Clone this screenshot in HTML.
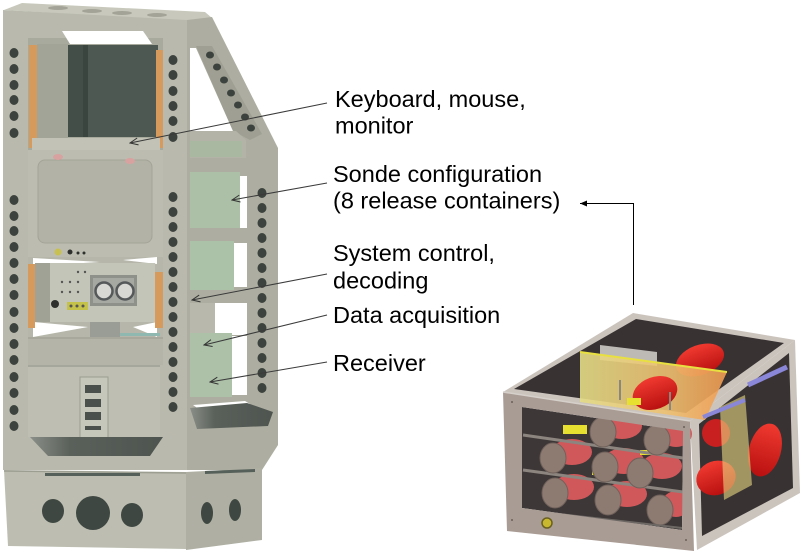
<!DOCTYPE html>
<html><head><meta charset="utf-8"><style>html,body{margin:0;padding:0;background:#fff}svg{display:block}</style></head>
<body>
<svg width="812" height="560" viewBox="0 0 812 560" xmlns="http://www.w3.org/2000/svg">
<defs>
<marker id="oa" markerWidth="10" markerHeight="10" refX="9" refY="5" orient="auto" markerUnits="userSpaceOnUse"><path d="M1,1.5 L9,5 L1,8.5" fill="none" stroke="#333" stroke-width="1"/></marker>
<marker id="fa" markerWidth="8" markerHeight="8" refX="7" refY="4" orient="auto" markerUnits="userSpaceOnUse"><path d="M0,1 L7,4 L0,7 Z" fill="#000"/></marker>
<linearGradient id="yel" x1="0" y1="0" x2="1" y2="0"><stop offset="0" stop-color="#e4dc86"/><stop offset="0.6" stop-color="#eec070"/><stop offset="1" stop-color="#f09a50"/></linearGradient>
<linearGradient id="bev" x1="0" y1="0" x2="1" y2="0"><stop offset="0" stop-color="#8a8f88"/><stop offset="0.3" stop-color="#5a605a"/><stop offset="1" stop-color="#4e544f"/></linearGradient>
<linearGradient id="red" x1="0" y1="0" x2="0" y2="1"><stop offset="0" stop-color="#f03a30"/><stop offset="1" stop-color="#b81010"/></linearGradient>
</defs>

<!-- ===== RACK ===== -->
<!-- top surface -->
<polygon points="22,3 205,12 212,18 187,21 4,10" fill="#c8c9bc"/>
<g fill="#a3a497"><ellipse cx="58" cy="8" rx="10" ry="2"/><ellipse cx="92" cy="11" rx="10" ry="2"/><ellipse cx="122" cy="13" rx="10" ry="2"/><ellipse cx="157" cy="15" rx="10" ry="2"/></g>
<!-- side face -->
<polygon points="187,20 212,17 278,148 278,445 262,470 187,470" fill="#adaea1"/>
<!-- front face -->
<polygon points="3,10 187,20 187,470 3,470" fill="#b9baad"/>

<!-- side upper opening -->
<polygon points="190,48 196,48 233,131 190,131" fill="#fff"/>
<polygon points="196,46 212,46 262,134 250,140 233,131" fill="#9fa093"/>
<g fill="#3c423d">
<ellipse cx="210" cy="55" rx="4" ry="3.5"/><ellipse cx="217" cy="67" rx="4" ry="3.5"/><ellipse cx="224" cy="80" rx="4" ry="3.5"/><ellipse cx="231" cy="93" rx="4" ry="3.5"/><ellipse cx="238" cy="105" rx="4" ry="3.5"/><ellipse cx="245" cy="117" rx="4" ry="3.5"/><ellipse cx="251" cy="128" rx="4" ry="3.5"/>
</g>
<polygon points="190,131 236,131 246,140 246,158 190,158" fill="#b3b4a7"/>
<rect x="190" y="141" width="52" height="16" fill="#a9b8a0"/>
<!-- side openings -->
<rect x="190" y="172" width="50" height="56" fill="#abc0a7"/>
<rect x="240" y="176" width="7" height="52" fill="#fff"/>
<rect x="190" y="241" width="44" height="49" fill="#abc1a8"/>
<rect x="234" y="243" width="13" height="44" fill="#fff"/>
<rect x="190" y="303" width="25" height="30" fill="#b8b9ac"/>
<rect x="215" y="303" width="32" height="32" fill="#fff"/>
<rect x="190" y="333" width="42" height="64" fill="#acc1a8"/>
<rect x="232" y="336" width="15" height="59" fill="#fff"/>
<polygon points="193,405 245,401 250,404 200,410" fill="#fff"/>
<polygon points="190,408 247,403 273,412 268,426 197,429" fill="url(#bev)"/>
<g fill="#3c423d">
<ellipse cx="262" cy="193" rx="4.5" ry="5"/><ellipse cx="262" cy="208" rx="4.5" ry="5"/><ellipse cx="262" cy="223" rx="4.5" ry="5"/><ellipse cx="262" cy="238" rx="4.5" ry="5"/><ellipse cx="262" cy="253" rx="4.5" ry="5"/><ellipse cx="262" cy="268" rx="4.5" ry="5"/><ellipse cx="262" cy="283" rx="4.5" ry="5"/><ellipse cx="262" cy="298" rx="4.5" ry="5"/><ellipse cx="262" cy="313" rx="4.5" ry="5"/><ellipse cx="262" cy="328" rx="4.5" ry="5"/><ellipse cx="262" cy="343" rx="4.5" ry="5"/><ellipse cx="262" cy="358" rx="4.5" ry="5"/><ellipse cx="262" cy="373" rx="4.5" ry="5"/><ellipse cx="262" cy="388" rx="4.5" ry="5"/>
</g>

<!-- monitor unit -->
<rect x="28" y="38" width="135" height="112" fill="#a9aa9e"/>
<polygon points="62,31 143,31 152,44 70,44" fill="#fff"/>
<polygon points="37,44 68,44 68,140 37,146" fill="#a2a497"/>
<rect x="68" y="45" width="90" height="92" fill="#4d5853"/>
<rect x="68" y="45" width="15" height="92" fill="#434e49"/>
<rect x="83" y="45" width="5" height="92" fill="#3a4540"/>
<rect x="29" y="45" width="8" height="103" fill="#d69a5c"/>
<rect x="156" y="50" width="7" height="98" fill="#d69a5c"/>
<rect x="32" y="138" width="128" height="12" fill="#c2c3b6"/>
<!-- sonde front panel -->
<rect x="28" y="150" width="135" height="107" fill="#bcbdb0"/>
<rect x="38" y="160" width="114" height="83" rx="7" fill="#b2b3a6" stroke="#a3a497" stroke-width="1"/>
<ellipse cx="58" cy="157" rx="5" ry="3" fill="#d8a2a0"/><ellipse cx="130" cy="161" rx="5" ry="3" fill="#d8a2a0"/>
<circle cx="58" cy="252" r="3.5" fill="#c8c050"/><circle cx="70" cy="252" r="2.5" fill="#2d302d"/><circle cx="78" cy="253" r="1.5" fill="#2d302d"/><circle cx="84" cy="253" r="1.5" fill="#2d302d"/>
<!-- control unit -->
<rect x="28" y="257" width="135" height="80" fill="#b6b7aa"/>
<polygon points="33,258 100,262 33,266" fill="#fff"/>
<polygon points="123,260 157,257 157,264" fill="#fff"/>
<polygon points="33,322 88,327 33,337" fill="#fff"/>
<polygon points="133,327 157,322 157,337" fill="#fff"/>
<rect x="35" y="263" width="120" height="59" fill="#c4c5b9"/>
<rect x="35" y="263" width="15" height="59" fill="#a0a295"/>
<rect x="28" y="264" width="7" height="64" fill="#d69a5c"/>
<rect x="155" y="272" width="8" height="56" fill="#d69a5c"/>
<rect x="90" y="275" width="47" height="31" fill="#8e918a"/>
<rect x="93" y="278" width="41" height="25" fill="#a6a9a2"/>
<circle cx="104" cy="291" r="8.5" fill="#d8d9d4" stroke="#55595a" stroke-width="2.5"/>
<circle cx="125" cy="291" r="8.5" fill="#d8d9d4" stroke="#55595a" stroke-width="2.5"/>
<circle cx="55" cy="304" r="4" fill="#2d302d"/>
<rect x="67" y="302" width="21" height="8" fill="#c5c24a"/>
<g fill="#555"><circle cx="71" cy="306" r="1.5"/><circle cx="77" cy="306" r="1.5"/><circle cx="83" cy="306" r="1.5"/><circle cx="62" cy="282" r="1.2"/><circle cx="70" cy="282" r="1.2"/><circle cx="78" cy="282" r="1.2"/><circle cx="62" cy="292" r="1.2"/><circle cx="70" cy="292" r="1.2"/><circle cx="78" cy="292" r="1.2"/><circle cx="78" cy="272" r="1.2"/><circle cx="85" cy="272" r="1.2"/></g>
<rect x="90" y="322" width="30" height="15" fill="#9a9d95"/>
<rect x="120" y="333" width="40" height="3" fill="#8fb8b0"/>
<!-- data acquisition tray -->
<rect x="28" y="337" width="135" height="28" fill="#b4b5a8"/>
<line x1="28" y1="338" x2="163" y2="338" stroke="#9c9d91" stroke-width="1"/>
<!-- receiver -->
<rect x="28" y="365" width="132" height="72" fill="#bebfb2"/>
<line x1="28" y1="366" x2="160" y2="366" stroke="#8d8f85" stroke-width="1"/>
<rect x="80" y="377" width="28" height="61" fill="#c6c7bb" stroke="#9a9c91" stroke-width="1"/>
<g fill="#4a504b"><rect x="85" y="385" width="16" height="8"/><rect x="85" y="399" width="16" height="8"/><rect x="85" y="412" width="16" height="8"/><rect x="85" y="426" width="16" height="4"/></g>
<!-- bottom bevel -->
<polygon points="30,437 163,437 150,456 48,456" fill="url(#bev)"/>

<!-- post holes -->
<g fill="#3c423d">
<ellipse cx="14" cy="53" rx="4.5" ry="5"/><ellipse cx="14" cy="69" rx="4.5" ry="5"/><ellipse cx="14" cy="85" rx="4.5" ry="5"/><ellipse cx="14" cy="100" rx="4.5" ry="5"/><ellipse cx="14" cy="116" rx="4.5" ry="5"/><ellipse cx="14" cy="133" rx="4.5" ry="5"/>
<ellipse cx="14" cy="200" rx="4.5" ry="5"/><ellipse cx="14" cy="216" rx="4.5" ry="5"/><ellipse cx="14" cy="231" rx="4.5" ry="5"/><ellipse cx="14" cy="247" rx="4.5" ry="5"/><ellipse cx="14" cy="263" rx="4.5" ry="5"/><ellipse cx="14" cy="279" rx="4.5" ry="5"/><ellipse cx="14" cy="295" rx="4.5" ry="5"/><ellipse cx="14" cy="312" rx="4.5" ry="5"/><ellipse cx="14" cy="328" rx="4.5" ry="5"/><ellipse cx="14" cy="344" rx="4.5" ry="5"/><ellipse cx="14" cy="360" rx="4.5" ry="5"/><ellipse cx="14" cy="377" rx="4.5" ry="5"/><ellipse cx="14" cy="393" rx="4.5" ry="5"/><ellipse cx="14" cy="410" rx="4.5" ry="5"/><ellipse cx="14" cy="426" rx="4.5" ry="5"/>
<ellipse cx="173" cy="60" rx="4.5" ry="5"/><ellipse cx="173" cy="75" rx="4.5" ry="5"/><ellipse cx="173" cy="91" rx="4.5" ry="5"/><ellipse cx="173" cy="106" rx="4.5" ry="5"/><ellipse cx="173" cy="121" rx="4.5" ry="5"/><ellipse cx="173" cy="137" rx="4.5" ry="5"/>
<ellipse cx="173" cy="197" rx="4.5" ry="5"/><ellipse cx="173" cy="212" rx="4.5" ry="5"/><ellipse cx="173" cy="227" rx="4.5" ry="5"/><ellipse cx="173" cy="242" rx="4.5" ry="5"/><ellipse cx="173" cy="257" rx="4.5" ry="5"/><ellipse cx="173" cy="272" rx="4.5" ry="5"/><ellipse cx="173" cy="287" rx="4.5" ry="5"/><ellipse cx="173" cy="302" rx="4.5" ry="5"/><ellipse cx="173" cy="317" rx="4.5" ry="5"/><ellipse cx="173" cy="332" rx="4.5" ry="5"/><ellipse cx="173" cy="347" rx="4.5" ry="5"/><ellipse cx="173" cy="362" rx="4.5" ry="5"/><ellipse cx="173" cy="377" rx="4.5" ry="5"/><ellipse cx="173" cy="392" rx="4.5" ry="5"/><ellipse cx="173" cy="407" rx="4.5" ry="5"/>
</g>

<!-- base -->
<polygon points="4,470 186,472 186,549 8,546" fill="#bdbeb1"/>
<line x1="4" y1="471" x2="186" y2="473" stroke="#9d9e92" stroke-width="1.5"/>
<rect x="45" y="473" width="95" height="3" fill="#56605a"/>
<polygon points="186,472 262,468 262,540 186,550" fill="#afb0a3"/>
<polygon points="205,471 255,469 255,472 205,474" fill="#56605a"/>
<g fill="#3f4742">
<ellipse cx="53" cy="511" rx="11" ry="12"/><ellipse cx="93" cy="513" rx="17" ry="17"/><ellipse cx="132" cy="515" rx="11" ry="12"/>
<ellipse cx="207" cy="513" rx="6" ry="11"/><ellipse cx="235" cy="510" rx="6" ry="11"/>
</g>

<!-- ===== SONDE BOX ===== -->
<polygon points="503,392 633,313 795,340 690,421" fill="#cbc4bd"/>
<polygon points="514,389 636,319 784,343 686,413" fill="#383233"/>
<polygon points="690,421 795,340 800,493 697,550" fill="#cbc4bd"/>
<polygon points="699,424 789,353 793,488 702,536" fill="#383233"/>
<!-- interior top -->
<polygon points="600,345 657,352 657,366 600,360" fill="#bdbab5"/>
<ellipse cx="700" cy="360" rx="25" ry="15" transform="rotate(-20 700 360)" fill="url(#red)"/>
<polygon points="580,352 727,372 705,420 580,402" fill="url(#yel)" opacity="0.9"/>
<line x1="580" y1="352" x2="727" y2="372" stroke="#e8e040" stroke-width="2"/>
<ellipse cx="655" cy="393" rx="23" ry="16" transform="rotate(-20 655 393)" fill="url(#red)"/>
<rect x="627" y="398" width="14" height="7" fill="#e8e030"/>
<g stroke="#8a8680" stroke-width="2"><line x1="620" y1="380" x2="620" y2="400"/><line x1="670" y1="392" x2="670" y2="410"/></g>
<!-- interior right -->
<ellipse cx="716" cy="433" rx="14" ry="14" fill="#c82020"/>
<ellipse cx="765" cy="450" rx="16" ry="27" transform="rotate(15 765 450)" fill="url(#red)"/>
<ellipse cx="716" cy="478" rx="20" ry="17" transform="rotate(-20 716 478)" fill="url(#red)"/>
<polygon points="720,407 745,395 752,485 724,500" fill="#e8d880" opacity="0.6"/>
<line x1="748" y1="385" x2="787" y2="367" stroke="#8a86d8" stroke-width="5"/>
<line x1="703" y1="417" x2="745" y2="400" stroke="#8a86d8" stroke-width="4"/>
<!-- front opening interior -->
<polygon points="522,407 683,431 682,530 522,508" fill="#3d3737"/>
<g fill="#d0585a">
<ellipse cx="622" cy="426" rx="20" ry="13"/><ellipse cx="676" cy="434" rx="16" ry="13"/>
<ellipse cx="572" cy="452" rx="20" ry="13"/><ellipse cx="624" cy="461" rx="20" ry="13"/><ellipse cx="662" cy="466" rx="20" ry="13"/>
<ellipse cx="574" cy="487" rx="20" ry="13"/><ellipse cx="627" cy="494" rx="20" ry="13"/><ellipse cx="676" cy="504" rx="14" ry="13"/>
</g>
<g fill="#e8e030"><rect x="563" y="425" width="24" height="9"/><rect x="592" y="470" width="14" height="5"/><rect x="640" y="450" width="12" height="5"/></g>
<line x1="523" y1="435" x2="683" y2="458" stroke="#8c847e" stroke-width="3"/>
<line x1="523" y1="470" x2="683" y2="492" stroke="#8c847e" stroke-width="3"/>
<g fill="#8d7b72" stroke="#6f615a" stroke-width="1">
<ellipse cx="603" cy="432" rx="13" ry="15"/><ellipse cx="657" cy="440" rx="13" ry="15"/>
<ellipse cx="553" cy="458" rx="13" ry="15"/><ellipse cx="605" cy="467" rx="13" ry="15"/><ellipse cx="640" cy="473" rx="13" ry="15"/>
<ellipse cx="555" cy="493" rx="13" ry="15"/><ellipse cx="608" cy="500" rx="13" ry="15"/><ellipse cx="660" cy="510" rx="13" ry="15"/>
</g>
<line x1="524" y1="510" x2="682" y2="528" stroke="#6e6865" stroke-width="2"/>
<!-- front frame -->
<path d="M503,392 L690,421 L694,551 L507,531 Z M522,407 L522,508 L682,530 L683,431 Z" fill="#a99c94" fill-rule="evenodd"/>
<line x1="503" y1="392" x2="690" y2="421" stroke="#d6d0ca" stroke-width="1.5"/>
<circle cx="547" cy="523" r="5" fill="#c8b830" stroke="#6a6020" stroke-width="1.5"/>
<g fill="#6a605a"><circle cx="512" cy="402" r="1"/><circle cx="512" cy="520" r="1"/><circle cx="686" cy="540" r="1"/><circle cx="684" cy="427" r="1"/></g>

<!-- ===== LEADERS ===== -->
<g stroke="#3a3a3a" stroke-width="1" fill="none">
<line x1="327" y1="103" x2="130" y2="143" marker-end="url(#oa)"/>
<line x1="327" y1="183" x2="232" y2="200" marker-end="url(#oa)"/>
<line x1="327" y1="274" x2="192" y2="300" marker-end="url(#oa)"/>
<line x1="327" y1="315" x2="204" y2="345" marker-end="url(#oa)"/>
<line x1="327" y1="362" x2="210" y2="382" marker-end="url(#oa)"/>
</g>
<polyline points="633.5,305 633.5,203.5 580,203.5" fill="none" stroke="#000" stroke-width="1" marker-end="url(#fa)"/>

<!-- ===== LABELS ===== -->
<g font-family="'Liberation Sans', Arial, sans-serif" font-size="23.5" fill="#000">
<text x="335" y="107">Keyboard, mouse,</text>
<text x="335" y="133.5">monitor</text>
<text x="333" y="182">Sonde configuration</text>
<text x="333" y="208.5">(8 release containers)</text>
<text x="333" y="261">System control,</text>
<text x="333" y="288.5">decoding</text>
<text x="333" y="323">Data acquisition</text>
<text x="333" y="371">Receiver</text>
</g>
</svg>
</body></html>
